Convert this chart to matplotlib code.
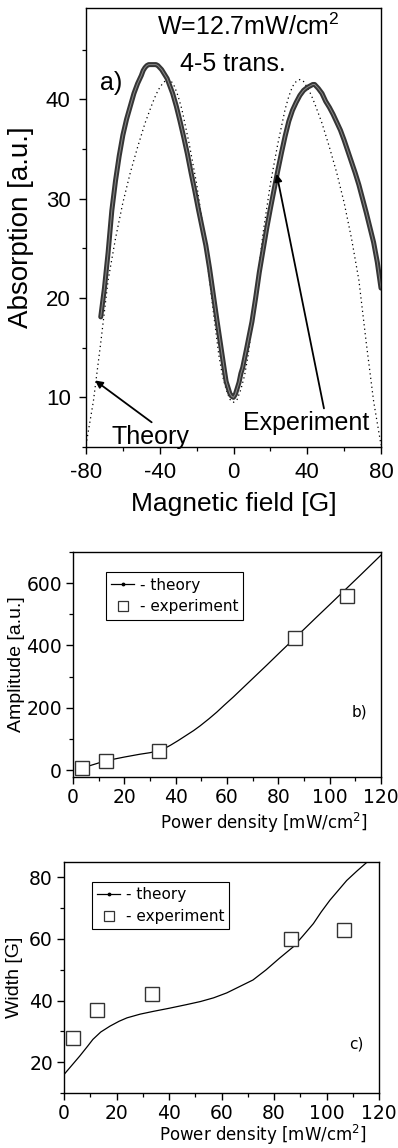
import matplotlib
matplotlib.use("Agg")
import matplotlib.pyplot as plt
from matplotlib.lines import Line2D
from matplotlib.ticker import MultipleLocator

plt.rcParams["axes.unicode_minus"] = False

# ---- (a) absorption line shape, 4-5 transition ----
field_theory = [-80, -76, -72, -68, -64, -60, -56, -52, -48, -44, -42, -40, -38, -36, -34,
                -32, -30, -28, -24, -20, -16, -12, -8, -6, -4, -2, 0, 2, 4, 6, 8, 12, 16,
                20, 24, 28, 30, 32, 34, 36, 38, 40, 42, 44, 48, 52, 56, 60, 64, 68, 72,
                76, 80]
abs_theory = [5.2, 9.6, 15.5, 21.8, 26.0, 29.6, 32.6, 35.2, 37.6, 39.6, 40.5, 41.2, 41.7,
              42.0, 41.9, 41.3, 40.3, 39.0, 35.5, 31.5, 26.5, 20.2, 14.3, 12.2, 10.8, 9.8,
              9.5, 9.8, 10.8, 12.2, 14.3, 20.2, 26.5, 31.5, 35.5, 39.0, 40.3, 41.3, 41.8,
              42.0, 41.8, 41.2, 40.5, 39.6, 37.6, 35.2, 32.6, 29.6, 26.0, 21.8, 15.5, 9.6,
              5.2]

field_exp = [-72, -70, -68, -66, -64, -62, -60, -58, -56, -54, -52, -50, -49, -48, -47,
             -46, -44, -42, -41, -40, -39, -38, -36, -35, -33, -31, -29, -27, -25, -23,
             -21, -19, -17, -15, -13, -11, -9, -7, -5, -4, -3, -2, -1, 0, 1, 2, 3, 4, 5,
             7, 10, 12, 14, 16, 18, 20, 22, 24, 26, 28, 30, 32, 34, 36, 38, 40, 41, 42,
             43, 44, 45, 46, 48, 50, 52, 54, 56, 58, 60, 62, 64, 66, 68, 70, 72, 74, 76,
             78, 80]
abs_exp = [18.1, 21.0, 24.6, 28.8, 31.8, 34.3, 36.4, 38.0, 39.3, 40.6, 41.6, 42.4, 42.9,
           43.2, 43.4, 43.5, 43.5, 43.5, 43.4, 43.2, 43.0, 42.7, 42.1, 41.6, 40.6, 39.3,
           37.8, 36.2, 34.5, 32.6, 30.8, 28.9, 27.1, 25.3, 23.0, 20.4, 17.8, 15.3, 12.8,
           11.6, 11.0, 10.4, 10.1, 10.0, 10.3, 10.9, 11.5, 12.4, 13.0, 14.8, 17.6, 20.0,
           22.6, 24.8, 27.0, 29.0, 30.9, 32.8, 34.6, 36.3, 37.8, 38.9, 39.7, 40.4, 40.9,
           41.2, 41.3, 41.4, 41.5, 41.5, 41.3, 41.1, 40.6, 39.8, 39.2, 38.5, 37.7, 36.9,
           35.9, 34.8, 33.7, 32.6, 31.4, 30.0, 28.6, 27.1, 25.6, 23.6, 21.0]

# ---- (b), (c) amplitude and width vs power density ----
power_exp = [3.5, 12.7, 33.5, 86.6, 106.7]
amp_exp = [8, 30, 62, 425, 560]
width_exp = [28, 37, 42, 60, 63]

power_amp_theory = [2.0, 8, 12.7, 20, 26, 30, 33.5, 36, 38, 41, 44, 47, 49.5, 53, 56, 59,
                    62.5, 69, 75.5, 81, 86.6, 94.9, 100, 105.3, 112, 120]
amp_theory = [3, 18, 30, 42, 51, 56, 63, 71, 80, 95, 111, 127, 142, 165, 186, 209, 235,
              286, 337, 381, 425, 491, 531, 573, 626, 690]

power_width_theory = [0, 3, 6, 9, 11, 14, 17.5, 21, 24, 29, 34, 40, 46.7, 52, 57, 62, 67,
                      72, 77, 82, 87.4, 91, 95, 98, 101.3, 104.5, 107.7, 111.5, 115.5]
width_theory = [16, 19, 22, 25.2, 27.4, 29.8, 31.7, 33.3, 34.4, 35.6, 36.5, 37.5, 38.7,
                39.7, 40.9, 42.5, 44.6, 46.7, 50.0, 53.7, 57.5, 61.0, 65.0, 68.8, 72.6,
                75.8, 79.0, 82.0, 85.0]

ARIAL = "Liberation Sans"
DEJAVU = "DejaVu Sans"

fig = plt.figure(figsize=(3.98, 11.48), dpi=100)


def style_axes(ax, xmaj, xmin, ymaj, ymin, tick_font, tick_size):
    for s in ax.spines.values():
        s.set_linewidth(1.0)
    ax.xaxis.set_major_locator(MultipleLocator(xmaj))
    ax.xaxis.set_minor_locator(MultipleLocator(xmin))
    ax.yaxis.set_major_locator(MultipleLocator(ymaj))
    ax.yaxis.set_minor_locator(MultipleLocator(ymin))
    ax.tick_params(which="major", direction="out", length=5, width=1.0,
                   top=False, right=False, pad=3)
    ax.tick_params(which="minor", direction="out", length=3, width=0.9,
                   top=False, right=False)
    for lab in ax.get_xticklabels() + ax.get_yticklabels():
        lab.set_family(tick_font)
        lab.set_fontsize(tick_size)


# ---------------- panel a ----------------
axa = fig.add_axes([86 / 398, 1 - 447 / 1148, 295 / 398, 439 / 1148])
axa.plot(field_theory, abs_theory, color="black", lw=0.9, ls=(0, (1, 2.6)))
axa.plot(field_exp, abs_exp, color="#353535", lw=3.6, solid_capstyle="round",
         solid_joinstyle="round")
axa.plot(field_exp, abs_exp, color="#8a8a8a", lw=0.7)
axa.set_xlim(-80, 80)
axa.set_ylim(5, 49.2)
style_axes(axa, 40, 20, 10, 5, ARIAL, 16)
axa.tick_params(which="major", pad=6)
axa.set_xlabel("Magnetic field [G]", family=ARIAL, fontsize=19)
axa.set_ylabel("Absorption [a.u.]", family=ARIAL, fontsize=20)
axa.xaxis.set_label_coords(0.5, -0.103)
axa.yaxis.set_label_coords(-0.175, 0.5)

axa.text(-72.5, 41.6, "a)", family=ARIAL, fontsize=18, va="center", ha="left")
axa.text(-41.5, 47.3, "W=12.7mW/cm$^\\mathregular{2}$", family=ARIAL, fontsize=18,
         va="center", ha="left")
axa.text(-29, 43.6, "4-5 trans.", family=ARIAL, fontsize=18, va="center", ha="left")

axa.annotate("Theory", xy=(-75.1, 11.7), xytext=(-66, 6.0), family=ARIAL, fontsize=18,
             ha="left", va="center",
             arrowprops=dict(arrowstyle="-|>", color="black", lw=1.3, mutation_scale=11,
                             shrinkA=0, shrinkB=0, relpos=(0.56, 1.0)))
axa.annotate("Experiment", xy=(23.4, 32.5), xytext=(5.2, 7.4), family=ARIAL,
             fontsize=18, ha="left", va="center",
             arrowprops=dict(arrowstyle="-|>", color="black", lw=1.3, mutation_scale=11,
                             shrinkA=0, shrinkB=0, relpos=(0.645, 1.0)))

# legend proxies shared by panels b and c
theory_handle = Line2D([], [], color="black", lw=0.9, marker=".", ms=3.5)
exp_handle = Line2D([], [], ls="none", marker="s", ms=6.5, mfc="white",
                    mec="#333333", mew=0.9)


def power_panel(rect, theory_x, theory_y, exp_y, ylim, ymaj, ymin, ylabel, tag,
                tag_xy, leg_anchor, ylabel_x, xlabel_x, xlabel_y):
    ax = fig.add_axes(rect)
    ax.plot(theory_x, theory_y, color="black", lw=0.9)
    ax.plot(power_exp, exp_y, ls="none", marker="s", ms=9.5, mfc="white",
            mec="#333333", mew=1.0)
    ax.set_xlim(0, 120)
    ax.set_ylim(*ylim)
    style_axes(ax, 20, 10, ymaj, ymin, DEJAVU, 13.5)
    ax.set_xlabel("Power density [mW/cm$^\\mathregular{2}$]", family=DEJAVU,
                  fontsize=12)
    ax.set_ylabel(ylabel, family=ARIAL, fontsize=14)
    ax.xaxis.set_label_coords(xlabel_x, xlabel_y)
    ax.yaxis.set_label_coords(ylabel_x, 0.5)
    ax.text(tag_xy[0], tag_xy[1], tag, family=DEJAVU, fontsize=11, ha="left",
            va="center")
    leg = ax.legend([theory_handle, exp_handle], ["- theory", "- experiment"],
                    loc="upper left", bbox_to_anchor=leg_anchor,
                    prop={"family": DEJAVU, "size": 11},
                    frameon=True, fancybox=False, framealpha=1, edgecolor="black",
                    handlelength=1.5, handletextpad=0.35, borderpad=0.35,
                    labelspacing=0.45, borderaxespad=0, numpoints=1)
    leg.get_frame().set_linewidth(0.8)
    return ax


power_panel([73 / 398, 1 - 777 / 1148, 308 / 398, 225 / 1148], power_amp_theory,
            amp_theory, amp_exp, (-22, 700), 200, 100, "Amplitude [a.u.]", "b)",
            (108.5, 185), (0.107, 0.91), -0.156, 0.62, -0.15)
power_panel([64 / 398, 1 - 1093 / 1148, 315 / 398, 231 / 1148], power_width_theory,
            width_theory, width_exp, (10, 85), 20, 10, "Width [G]", "c)",
            (108.5, 26), (0.089, 0.915), -0.13, 0.63, -0.13)

fig.savefig("out.png", dpi=100)
